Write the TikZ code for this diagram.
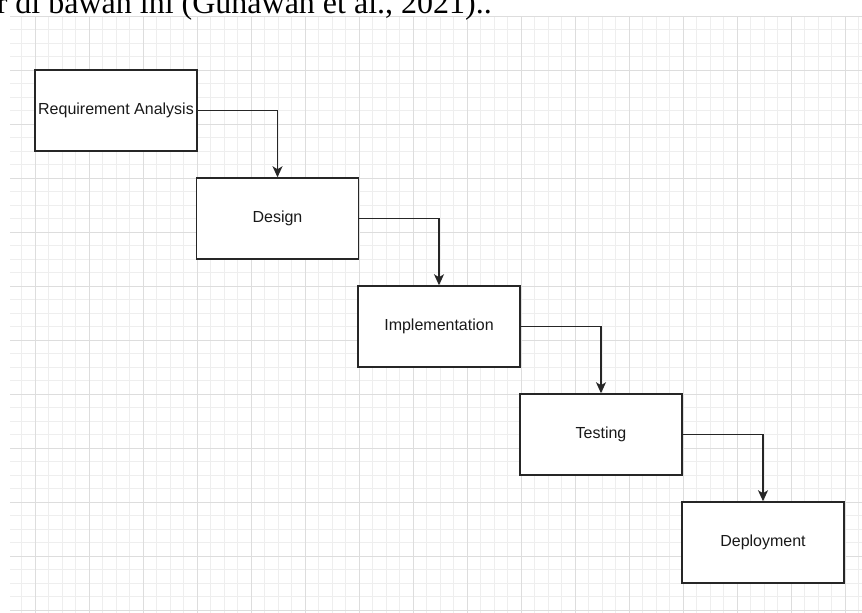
\documentclass[tikz,border=0pt]{standalone}
\usepackage{fontspec}
\setmainfont{Liberation Serif}
\newfontfamily\boxfont{Liberation Sans}
\usetikzlibrary{arrows.meta}
\definecolor{minorgrid}{HTML}{EEEEEE}
\definecolor{majorgrid}{HTML}{DDDDDD}
\tikzset{
  stagebox/.style={draw=black!85, fill=white, line width=1.5pt, minimum width=162pt,
    minimum height=81pt, inner sep=0pt, text=black!90, font=\boxfont\fontsize{16}{19}\selectfont},
  flow/.style={draw=black!85, line width=1.4pt, -{Stealth[length=11pt,width=10pt,inset=3pt]}}
}
\begin{document}
\begin{tikzpicture}[x=1pt,y=-1pt]
\useasboundingbox (0,0) rectangle (862,613);
\fill[white] (0,0) rectangle (862,613);
% grid
\begin{scope}
\clip (10,0) rectangle (862,613);
\foreach \x in {21.5,35,...,862} \draw[minorgrid, line width=1pt] (\x,16) -- (\x,613);
\foreach \y in {16,29.5,...,613} \draw[minorgrid, line width=1pt] (10,\y) -- (862,\y);
\foreach \x in {35,89,...,862} \draw[majorgrid, line width=1pt] (\x,16) -- (\x,613);
\foreach \y in {16,70,...,613} \draw[majorgrid, line width=1pt] (10,\y) -- (862,\y);
\end{scope}
% clipped text line at top
\begin{scope}
\clip (0,0) rectangle (862,613);
\node[anchor=base east, inner sep=0pt, font=\fontsize{32}{38}\selectfont] (cap) at (492,13) {r di bawah ini (Gunawan et al., 2021)..};
\end{scope}
% stages
\node[stagebox] (ra) at (116,110.5) {Requirement Analysis};
\node[stagebox] (de) at (277.5,218.5) {Design};
\node[stagebox] (im) at (439,326.5) {Implementation};
\node[stagebox] (te) at (601,434.5) {Testing};
\node[stagebox] (dp) at (763,542.5) {Deployment};
% connectors
\draw[flow] (ra.east) -| (de.north);
\draw[flow] (de.east) -| (im.north);
\draw[flow] (im.east) -| (te.north);
\draw[flow] (te.east) -| (dp.north);
\end{tikzpicture}
\end{document}
